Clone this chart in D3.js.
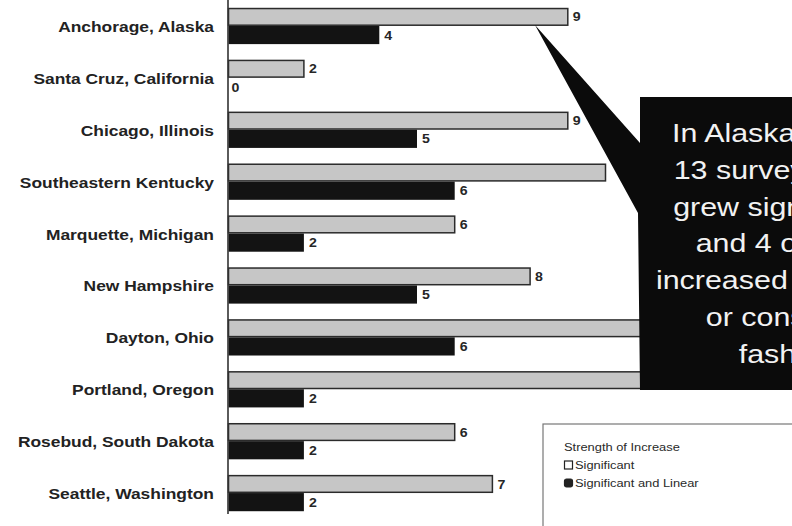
<!DOCTYPE html>
<html>
<head>
<meta charset="utf-8">
<script src="https://cdn.jsdelivr.net/npm/d3@7"></script>
<style>
  body { margin: 0; background: #fff; }
  svg { display: block; }
</style>
</head>
<body>
<div id="chart"></div>
<script>
// sites, top to bottom
var cities = [
  "Anchorage, Alaska",
  "Santa Cruz, California",
  "Chicago, Illinois",
  "Southeastern Kentucky",
  "Marquette, Michigan",
  "New Hampshire",
  "Dayton, Ohio",
  "Portland, Oregon",
  "Rosebud, South Dakota",
  "Seattle, Washington"
]
// Significant (grey) / Significant and Linear (black)
var significant = [9, 2, 9, 10, 6, 8, 12, 12, 6, 7]
var linear = [4, 0, 5, 6, 2, 5, 6, 2, 2, 2]
var seriesKeys = ["sig", "lin"]
var legendTitle = "Strength of Increase"
var legendLabels = ["Significant", "Significant and Linear"]
var calloutLines = [
  "In Alaska, trees in",
  "13 surveyed sites",
  "grew significantly,",
  "and 4 of those",
  "increased in a linear",
  "or consistent",
  "fashion."
]

var width = 792
var height = 526
var stretch = 1.18 // scan is wider than tall

var svg = d3.select("#chart").append("svg")
  .attr("width", width)
  .attr("height", height)
  .style("font-family", "Liberation Sans, Arial, sans-serif")

svg.append("rect").attr("width", width).attr("height", height).attr("fill", "#fff")

var x = d3.scaleLinear().domain([0, 15]).range([228.5, 228.5 + 15 * 37.7])
var y = d3.scaleBand().domain(cities).range([0, 519]).paddingInner(0.3).paddingOuter(0.15)
var inner = d3.scaleBand().domain(seriesKeys).range([0, y.bandwidth()])

var rows = cities.map(function (c, i) {
  return { city: c, sig: significant[i], lin: linear[i] }
})

var g = svg.append("g")

var row = g.selectAll(".row").data(rows).enter().append("g")
  .attr("class", "row")
  .attr("transform", function (d) { return "translate(0," + y(d.city) + ")" })

// grey bars with dark outline
row.append("rect")
  .attr("x", x(0))
  .attr("y", inner("sig") + 0.75)
  .attr("width", function (d) { return x(d.sig) - x(0) })
  .attr("height", inner.bandwidth() - 1.5)
  .attr("fill", "#c6c6c6")
  .attr("stroke", "#2b2b2b")
  .attr("stroke-width", 1.5)

row.append("rect")
  .attr("x", x(0))
  .attr("y", inner("lin"))
  .attr("width", function (d) { return x(d.lin) - x(0) })
  .attr("height", inner.bandwidth())
  .attr("fill", "#131313")

// value labels (the long bars run under the callout, no label there)
seriesKeys.forEach(function (k) {
  row.filter(function (d) { return d[k] < 10 }).append("text")
    .attr("transform", function (d) {
      return "translate(" + (x(d[k]) + (d[k] ? 5 : 3)) + "," + (inner(k) + inner.bandwidth() / 2 + 0.5) + ") scale(" + stretch + ",1)"
    })
    .attr("dominant-baseline", "central")
    .attr("font-size", 12)
    .attr("font-weight", "bold")
    .attr("fill", "#262626")
    .text(function (d) { return d[k] })
})

// category labels
row.append("text")
  .attr("transform", function () {
    return "translate(214," + (y.bandwidth() / 2 + 1) + ") scale(" + 1.2 + ",1)"
  })
  .attr("text-anchor", "end")
  .attr("dominant-baseline", "central")
  .attr("font-size", 14.5)
  .attr("font-weight", "bold")
  .attr("fill", "#222")
  .text(function (d) { return d.city })

// axis line
g.append("line")
  .attr("x1", x(0) - 0.5).attr("x2", x(0) - 0.5)
  .attr("y1", 0).attr("y2", 514)
  .attr("stroke", "#333")
  .attr("stroke-width", 1.6)

// callout box with pointer to the Alaska bar
var tip = [535, 25]
var box = { x: 640, y: 97, w: 200, h: 293 }
var callout = svg.append("g")
callout.append("path")
  .attr("d", d3.line()([
    tip,
    [box.x, 143],
    [box.x, box.y],
    [box.x + box.w, box.y],
    [box.x + box.w, box.y + box.h],
    [box.x, box.y + box.h],
    [box.x - 2, 213]
  ]) + "Z")
  .attr("fill", "#0b0b0b")

callout.selectAll("text").data(calloutLines).enter().append("text")
  .attr("transform", function (d, i) {
    return "translate(792," + (142 + i * 36.8) + ") scale(1.17,1)"
  })
  .attr("text-anchor", "middle")
  .attr("font-size", 26)
  .attr("fill", "#f2f2f2")
  .text(function (d) { return d })

// legend
var legend = svg.append("g").attr("transform", "translate(543,424)")
legend.append("rect")
  .attr("width", 300).attr("height", 200)
  .attr("fill", "#fff")
  .attr("stroke", "#777")
  .attr("stroke-width", 1.2)

legend.append("text")
  .attr("transform", "translate(21,23) scale(1.12,1)")
  .attr("dominant-baseline", "central")
  .attr("font-size", 11.5)
  .attr("fill", "#2a2a2a")
  .text(legendTitle)

var item = legend.selectAll(".item").data(legendLabels).enter().append("g")
  .attr("class", "item")
  .attr("transform", function (d, i) { return "translate(21," + (41 + i * 18) + ")" })

item.append("rect")
  .attr("x", 0.5).attr("y", -4)
  .attr("width", 8).attr("height", 8)
  .attr("rx", function (d, i) { return i ? 2 : 0 })
  .attr("fill", function (d, i) { return i ? "#222" : "#fff" })
  .attr("stroke", "#222")
  .attr("stroke-width", 1.2)

item.append("text")
  .attr("transform", "translate(11,0) scale(1.12,1)")
  .attr("dominant-baseline", "central")
  .attr("font-size", 11.5)
  .attr("fill", "#2a2a2a")
  .text(function (d) { return d })
</script>
</body>
</html>
